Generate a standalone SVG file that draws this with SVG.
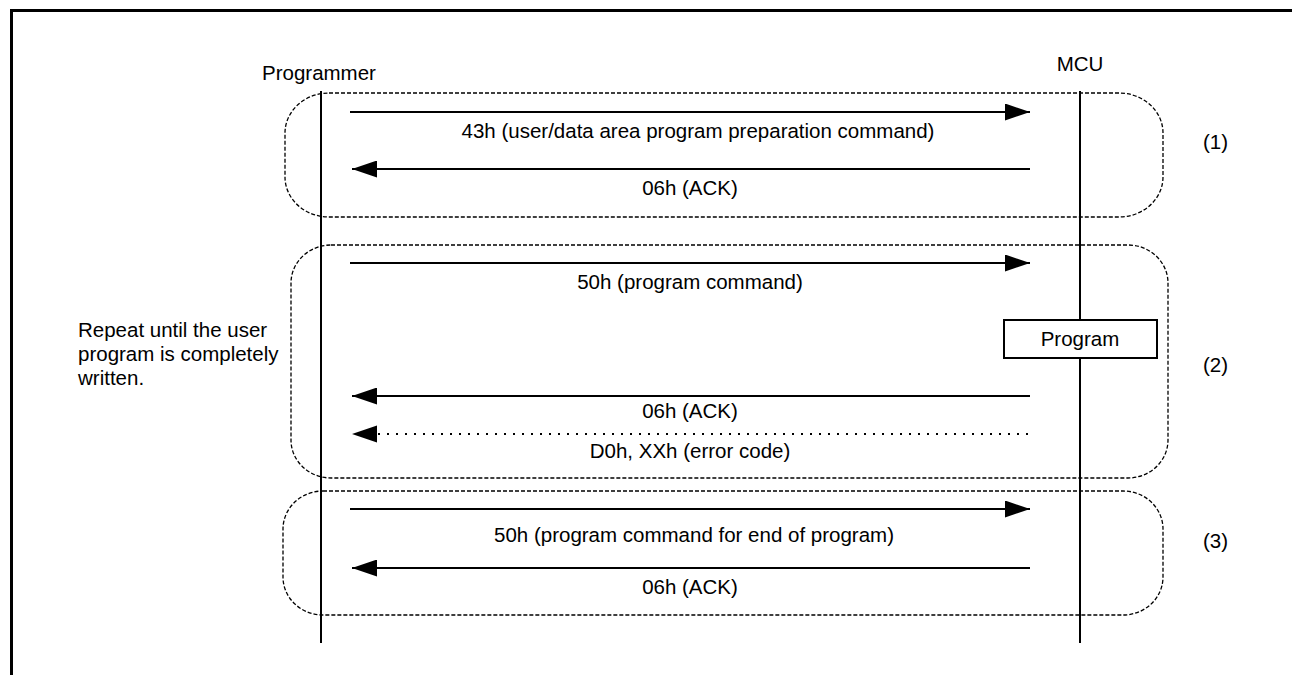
<svg xmlns="http://www.w3.org/2000/svg" width="1292" height="675" viewBox="0 0 1292 675">
<defs>
<style>
text{font-family:"Liberation Sans",Arial,sans-serif;font-size:20.5px;fill:#000}
.c{text-anchor:middle}
.life{stroke:#000;stroke-width:2;fill:none}
.grp{stroke:#000;stroke-width:1.3;stroke-dasharray:4 2;fill:none}
.msg{stroke:#000;stroke-width:2;fill:none}
.dot{stroke:#000;stroke-width:2;stroke-dasharray:2 7;fill:none}
</style>
<marker id="ah" viewBox="0 0 25 17" refX="25" refY="8.5" markerWidth="25" markerHeight="17" markerUnits="userSpaceOnUse" orient="auto">
<path d="M0,0 L25,8.5 L0,17 Z" fill="#000"/>
</marker>
</defs>
<rect width="1292" height="675" fill="#fff"/>
<path d="M11.5,675 V10.5 H1292" stroke="#000" stroke-width="3" fill="none"/>
<g id="groups">
<rect class="grp" x="285" y="93" width="878" height="124" rx="44" ry="40"/>
<rect class="grp" x="291" y="245" width="877" height="233" rx="40" ry="38"/>
<rect class="grp" x="283" y="491" width="880" height="124" rx="40" ry="38"/>
</g>
<g id="programmer">
<text x="262" y="80">Programmer</text>
<line class="life" x1="321" y1="91" x2="321" y2="643"/>
</g>
<g id="mcu">
<text class="c" x="1080" y="71">MCU</text>
<line class="life" x1="1080" y1="91" x2="1080" y2="643"/>
</g>
<g id="program-box">
<rect x="1004" y="320" width="153" height="38" fill="#fff" stroke="#000" stroke-width="2"/>
<text class="c" x="1080" y="346">Program</text>
</g>
<g id="connectors">
<line class="msg" x1="350" y1="112" x2="1030" y2="112" marker-end="url(#ah)"/>
<line class="msg" x1="1030" y1="169" x2="352" y2="169" marker-end="url(#ah)"/>
<line class="msg" x1="350" y1="263" x2="1030" y2="263" marker-end="url(#ah)"/>
<line class="msg" x1="1030" y1="396" x2="352" y2="396" marker-end="url(#ah)"/>
<line class="dot" x1="1028" y1="434" x2="372" y2="434"/>
<path d="M377,425.5 L352,434 L377,442.5 Z" fill="#000"/>
<line class="msg" x1="350" y1="509" x2="1030" y2="509" marker-end="url(#ah)"/>
<line class="msg" x1="1030" y1="568" x2="352" y2="568" marker-end="url(#ah)"/>
</g>
<g id="labels">
<text class="c" x="698" y="138">43h (user/data area program preparation command)</text>
<text class="c" x="690" y="195">06h (ACK)</text>
<text class="c" x="690" y="289">50h (program command)</text>
<text class="c" x="690" y="418">06h (ACK)</text>
<text class="c" x="690" y="458">D0h, XXh (error code)</text>
<text class="c" x="694" y="542">50h (program command for end of program)</text>
<text class="c" x="690" y="594">06h (ACK)</text>
</g>
<g id="notes">
<text x="78" y="337">Repeat until the user</text>
<text x="78" y="361">program is completely</text>
<text x="78" y="385">written.</text>
<text x="1203" y="149">(1)</text>
<text x="1203" y="372">(2)</text>
<text x="1203" y="548">(3)</text>
</g>
</svg>
